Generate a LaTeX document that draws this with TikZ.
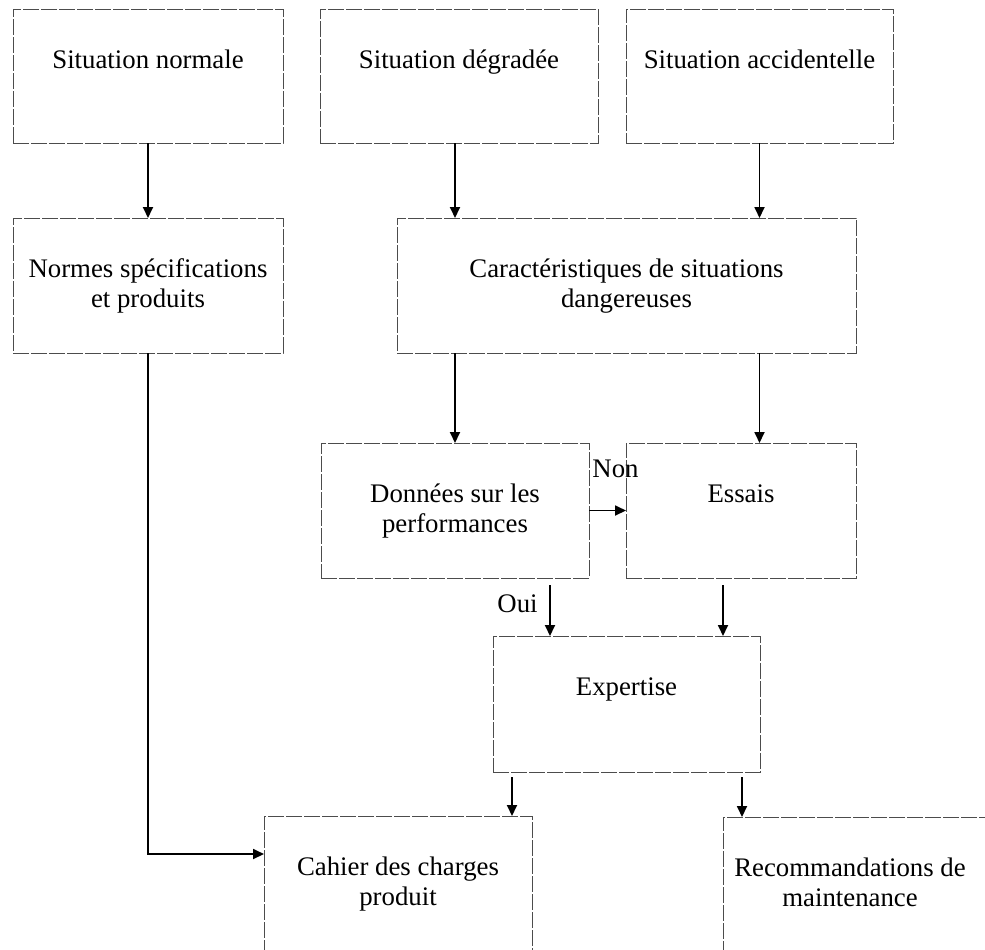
\documentclass[tikz,border=0pt]{standalone}
\usepackage{fontspec}
\setmainfont{Liberation Serif}
\usetikzlibrary{arrows.meta,calc}
\begin{document}
\begin{tikzpicture}[x=0.5pt,y=-0.5pt,
  box/.style={draw=black!70, line width=0.5pt, dash pattern=on 8pt off 1pt, inner sep=0pt, outer sep=0pt},
  txt/.style={font=\fontsize{13.4}{15}\selectfont, align=center, anchor=base, inner sep=0pt},
  lbl/.style={font=\fontsize{13.4}{15}\selectfont, inner sep=0pt},
  arr/.style={line width=0.9pt, -{Triangle[length=5.5pt,width=5pt]}}]
\useasboundingbox (0,0) rectangle (985,949);
\clip (0,0) rectangle (985,949);
% boxes
\node[box, minimum width=135pt, minimum height=67pt] (b1) at (148,76) {};
\node[box, minimum width=139pt, minimum height=67pt] (b2) at (459,76) {};
\node[box, minimum width=133.5pt, minimum height=67pt] (b3) at (759.5,76) {};
\node[box, minimum width=135pt, minimum height=67.5pt] (b4) at (148,285.5) {};
\node[box, minimum width=229.5pt, minimum height=67.5pt] (b5) at (626.5,285.5) {};
\node[box, minimum width=134pt, minimum height=67.5pt] (b6) at (455,510.5) {};
\node[box, minimum width=115pt, minimum height=67.5pt] (b7) at (741,510.5) {};
\node[box, minimum width=133.5pt, minimum height=68pt] (b8) at (626.5,704) {};
\node[box, minimum width=134pt, minimum height=75pt] (b9) at (398,891) {};
\node[box, minimum width=138.5pt, minimum height=75pt] (b10) at (861.5,892) {};
% texts (base anchor = baseline of the last line)
\node[txt] (t1) at ($(b1.north)+(0,59)$) {Situation normale};
\node[txt] (t2) at ($(b2.north)+(0,59)$) {Situation dégradée};
\node[txt] (t3) at ($(b3.north)+(0,59)$) {Situation accidentelle};
\node[txt] (t4) at ($(b4.north)+(0,89)$) {Normes spécifications\\et produits};
\node[txt] (t5) at ($(b5.north)+(0,89)$) {Caractéristiques de situations\\dangereuses};
\node[txt] (t6) at ($(b6.north)+(0,89)$) {Données sur les\\performances};
\node[txt] (t7) at ($(b7.north)+(0,59)$) {Essais};
\node[txt] (t8) at ($(b8.north)+(0,59)$) {Expertise};
\node[txt] (t9) at ($(b9.north)+(0,89)$) {Cahier des charges\\produit};
\node[txt] (t10) at (850,906) {Recommandations de\\maintenance};
% labels
\node[lbl, anchor=base west] (non) at (592,477) {Non};
\node[lbl, anchor=base west] (oui) at (497,612) {Oui};
% helper coordinates
\coordinate (cOui) at (550,585);
\coordinate (cEss) at (723,585);
\coordinate (cE1) at (512,777);
\coordinate (cE2) at (742,777);
\coordinate (cNC) at (148,854);
% connectors
\draw[arr] (b1.south) -- (b4.north);
\draw[arr] (b2.south -| b6.north) -- (b5.north -| b6.north);
\draw[arr] (b3.south) -- (b5.north -| b3.south);
\draw[arr] (b5.south -| b6.north) -- (b6.north);
\draw[arr] (b5.south -| b3.south) -- (b7.north -| b3.south);
\draw[arr] (b6.east) -- (b7.west);
\draw[arr] (cOui) -- (cOui |- b8.north);
\draw[arr] (cEss) -- (cEss |- b8.north);
\draw[arr] (cE1) -- (cE1 |- b9.north);
\draw[arr] (cE2) -- (cE2 |- b10.north);
\draw[arr] (b4.south) |- (cNC -| b9.west);
\end{tikzpicture}
\end{document}
